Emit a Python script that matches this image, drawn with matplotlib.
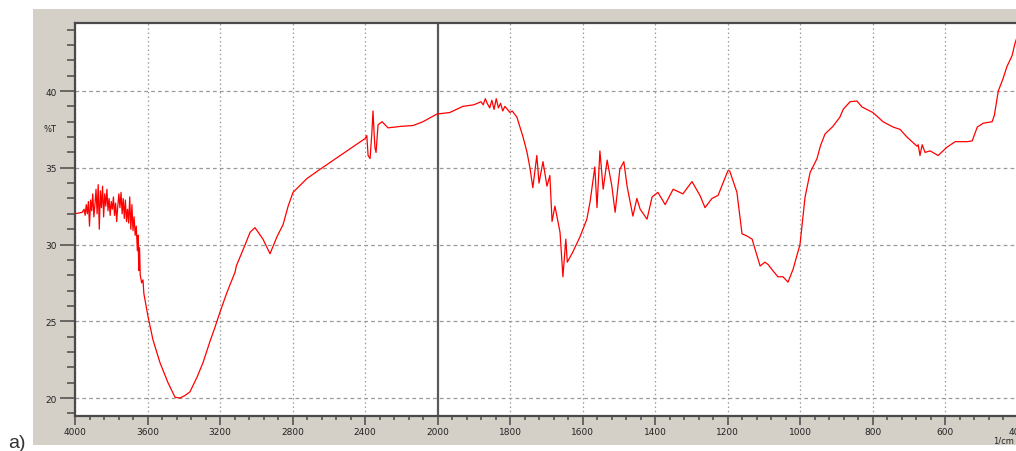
import numpy as np
import matplotlib
matplotlib.use("Agg")
import matplotlib.pyplot as plt
from matplotlib.patches import Rectangle
from matplotlib.ticker import FixedLocator, FixedFormatter

# FTIR spectrum: wavenumber (1/cm) and %T
wavenumber = [
    4000, 3980, 3960, 3950, 3944, 3938, 3932, 3926, 3920, 3914, 3908, 3902, 3896,
    3890, 3884, 3878, 3872, 3866, 3860, 3854, 3848, 3842, 3836, 3830, 3824, 3818,
    3812, 3806, 3800, 3794, 3788, 3782, 3776, 3770, 3764, 3758, 3752, 3746, 3740,
    3734, 3728, 3722, 3716, 3710, 3704, 3698, 3692, 3686, 3680, 3674, 3668, 3662,
    3656, 3652, 3648, 3644, 3640, 3632, 3625, 3620, 3597, 3586, 3570, 3531, 3487,
    3448, 3421, 3395, 3366, 3327, 3294, 3255, 3228, 3200, 3161, 3117, 3110, 3061,
    3034, 3007, 2963, 2924, 2886, 2852, 2824, 2797, 2720, 2648, 2499, 2400, 2390,
    2383, 2372, 2362, 2356, 2350, 2345, 2339, 2328, 2306, 2273, 2200, 2135, 2080,
    2003, 1966, 1930, 1900, 1880, 1874, 1868, 1863, 1856, 1850, 1844, 1838, 1832,
    1826, 1820, 1814, 1800, 1794, 1781, 1772, 1764, 1753, 1745, 1737, 1726, 1720,
    1709, 1698, 1690, 1684, 1676, 1662, 1654, 1646, 1642, 1627, 1607, 1588, 1579,
    1566, 1560, 1552, 1543, 1532, 1519, 1510, 1497, 1486, 1477, 1461, 1450, 1441,
    1422, 1408, 1392, 1372, 1350, 1323, 1298, 1276, 1262, 1243, 1226, 1199, 1194,
    1174, 1160, 1146, 1132, 1124, 1110, 1097, 1088, 1075, 1061, 1047, 1039, 1033,
    1019, 1000, 986, 972, 953, 944, 931, 909, 890, 881, 862, 843, 829, 799, 771,
    743, 724, 705, 677, 674, 669, 663, 655, 641, 619, 594, 572, 539, 525, 511, 495,
    470, 464, 453, 440, 429, 415, 407, 400,
]
transmittance = [
    32.0, 32.05, 32.1, 32.3, 31.9, 32.6, 32.0, 32.8, 31.2, 32.9, 32.2, 33.3, 31.8,
    32.6, 33.6, 32.0, 33.9, 31.0, 33.5, 32.4, 33.8, 31.8, 33.3, 32.5, 33.6, 32.2,
    33.0, 31.9, 32.8, 32.3, 33.1, 31.9, 32.7, 31.5, 32.5, 33.3, 32.4, 33.4, 32.0,
    33.0, 31.7, 32.9, 31.5, 32.3, 31.4, 33.1, 31.0, 32.6, 30.9, 31.8, 30.6, 31.2,
    29.6, 30.6, 28.3, 29.8, 28.0, 27.5, 27.7, 26.8, 25.3, 24.7, 23.8, 22.3, 21.0,
    20.05, 20.0, 20.15, 20.4, 21.35, 22.3, 23.7, 24.6, 25.6, 26.9, 28.2, 28.6, 30.0,
    30.8, 31.1, 30.35, 29.4, 30.5, 31.3, 32.5, 33.4, 34.3, 34.9, 36.1, 36.9, 37.1,
    35.8, 35.6, 37.3, 38.7, 37.3, 36.3, 36.0, 37.8, 38.0, 37.6, 37.7, 37.75, 38.0,
    38.5, 38.6, 39.0, 39.1, 39.3, 39.1, 39.5, 39.2, 38.9, 39.4, 38.8, 39.5, 38.9,
    39.2, 38.7, 39.0, 38.6, 38.7, 38.3, 37.6, 37.0, 36.0, 35.0, 33.7, 35.8, 34.0,
    35.4, 33.8, 34.5, 31.5, 32.5, 30.8, 27.9, 30.35, 28.85, 29.5, 30.5, 31.65, 32.8,
    35.05, 32.4, 36.1, 33.6, 35.5, 33.8, 32.1, 34.9, 35.4, 33.8, 31.85, 33.0, 32.3,
    31.65, 33.1, 33.4, 32.6, 33.6, 33.3, 34.1, 33.2, 32.4, 33.0, 33.2, 34.8, 34.8,
    33.4, 30.7, 30.55, 30.35, 29.7, 28.6, 28.85, 28.7, 28.3, 27.9, 27.9, 27.7, 27.55,
    28.4, 30.0, 33.1, 34.7, 35.6, 36.4, 37.2, 37.7, 38.3, 38.8, 39.3, 39.35, 38.96,
    38.6, 38.0, 37.65, 37.5, 37.0, 36.4, 36.5, 35.8, 36.5, 36.0, 36.1, 35.8, 36.35,
    36.7, 36.7, 36.75, 37.65, 37.9, 38.0, 38.4, 40.0, 40.8, 41.6, 42.3, 43.1, 43.6,
]

x_major = [4000, 3600, 3200, 2800, 2400, 2000, 1800, 1600, 1400, 1200, 1000, 800, 600, 400]
x_labels = [str(v) for v in x_major]
y_major = [20, 25, 30, 35, 40]


# spectrometer style axis: 400 per division above 2000, 200 per division below
def forward(w):
    w = np.asarray(w, dtype=float)
    return np.where(w >= 2000, (4000 - w) / 400.0, 5 + (2000 - w) / 200.0)


def inverse(u):
    u = np.asarray(u, dtype=float)
    return np.where(u <= 5, 4000 - 400.0 * u, 2000 - 200.0 * (u - 5))


fig = plt.figure(figsize=(10.16, 4.52), dpi=100)
fig.patch.set_facecolor("white")
W, H = 1016.0, 452.0

# grey window panel behind the plot
fig.add_artist(Rectangle((33 / W, 1 - 446 / H), 1 - 33 / W, (446 - 10) / H,
                         transform=fig.transFigure, facecolor="#d4d0c8",
                         edgecolor="none", zorder=0))

ax = fig.add_axes([75 / W, 1 - 417 / H, 942.5 / W, 393 / H])
ax.set_facecolor("white")
ax.set_xscale("function", functions=(forward, inverse))
ax.set_xlim(400, 4000)
ax.set_ylim(18.83, 44.43)

ax.plot(wavenumber, transmittance, color="#ff0000", lw=0.9, zorder=3)

minor_x = list(np.arange(4000, 2000, -80)) + list(np.arange(2000, 399, -40))
ax.xaxis.set_major_locator(FixedLocator(x_major))
ax.xaxis.set_major_formatter(FixedFormatter(x_labels))
ax.xaxis.set_minor_locator(FixedLocator(minor_x))
ax.yaxis.set_major_locator(FixedLocator(y_major))
ax.yaxis.set_minor_locator(FixedLocator(list(range(19, 45))))

for w in x_major:
    if w != 2000:
        ax.axvline(w, color="#9a9a9a", lw=0.9, ls=(0, (1.2, 2.2)), zorder=1)
for t in y_major:
    ax.axhline(t, color="#9a9a9a", lw=0.9, ls=(0, (3, 2.5)), zorder=1)
ax.axvline(2000, color="#5a5a5a", lw=1.6, zorder=2)

for side in ["left", "bottom", "top"]:
    ax.spines[side].set_color("#4a4a4a")
    ax.spines[side].set_linewidth(1.6)
ax.spines["right"].set_visible(False)

ax.tick_params(axis="y", which="major", direction="out", length=10.8, width=1.1,
               color="#4a4a4a", labelsize=6.5, labelcolor="#222222", pad=2)
ax.tick_params(axis="y", which="minor", direction="out", length=5.8, width=1.1,
               color="#4a4a4a")
ax.tick_params(axis="x", which="major", direction="out", length=6.5, width=1.1,
               color="#4a4a4a", labelsize=6.5, labelcolor="#222222", pad=1.5)
ax.tick_params(axis="x", which="minor", direction="out", length=3.2, width=1.1,
               color="#4a4a4a")

fig.text(50 / W, 1 - 130 / H, "%T", fontsize=6, color="#222222",
         ha="center", va="center")
fig.text(993 / W, 1 - 441 / H, "1/cm", fontsize=6, color="#222222",
         ha="left", va="center")
fig.text(8 / W, 1 - 448 / H, "a)", fontsize=14, color="#333333",
         family="Liberation Sans", ha="left", va="baseline")

fig.savefig("out.png", dpi=100)
